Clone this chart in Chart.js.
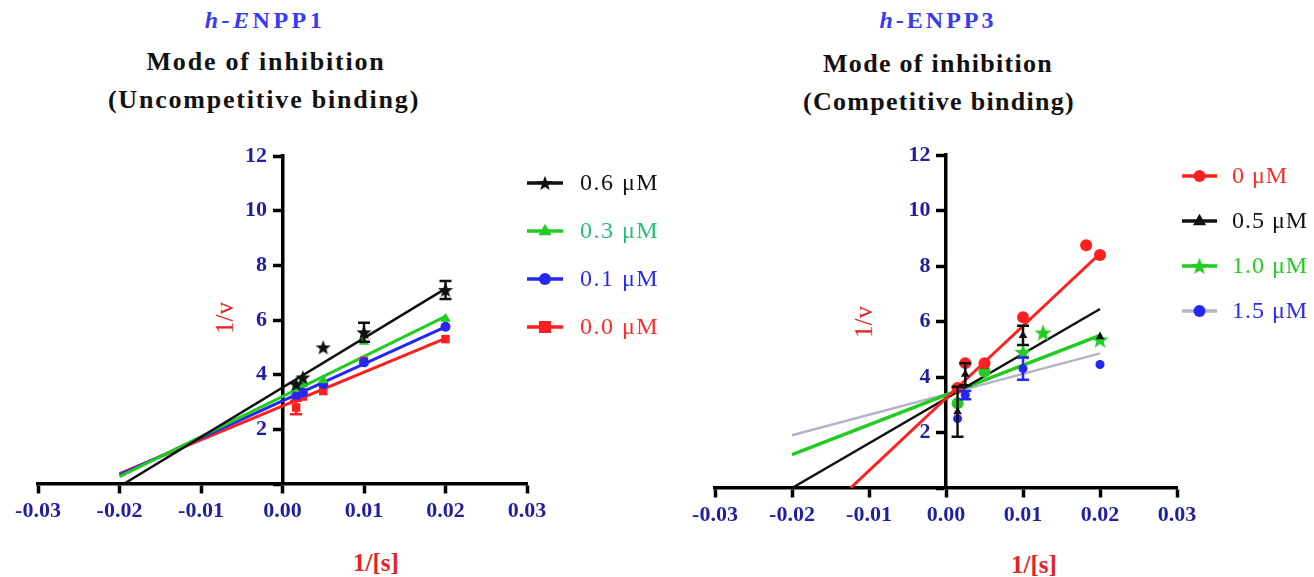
<!DOCTYPE html>
<html><head><meta charset="utf-8">
<script src="https://cdn.jsdelivr.net/npm/chart.js@4.4.1/dist/chart.umd.min.js"></script>
<style>
html,body{margin:0;padding:0;background:#fff;width:1314px;height:577px;overflow:hidden;position:relative;font-family:"Liberation Serif","DejaVu Serif",serif;}
canvas{position:absolute;left:0;top:0;}
.t{position:absolute;transform:translateX(-50%);white-space:nowrap;font-weight:bold;text-align:center;line-height:1;}
.ax{position:absolute;white-space:nowrap;color:#e3241f;line-height:1;}
</style></head><body>
<div class="t" style="left:265px;top:8px;font-size:24px;letter-spacing:3.5px;color:#3a3af2"><i>h-E</i>NPP1</div>
<div class="t" style="left:266px;top:49px;font-size:26px;letter-spacing:1.8px;color:#111">Mode of inhibition</div>
<div class="t" style="left:264px;top:87px;font-size:26px;letter-spacing:1.8px;color:#111">(Uncompetitive binding)</div>
<div class="t" style="left:938px;top:8px;font-size:24px;letter-spacing:3px;color:#3a3af2"><i>h</i>-ENPP3</div>
<div class="t" style="left:938px;top:51px;font-size:26px;letter-spacing:1.3px;color:#111">Mode of inhibition</div>
<div class="t" style="left:939px;top:89px;font-size:26px;letter-spacing:1.3px;color:#111">(Competitive binding)</div>
<div class="ax" style="left:224px;top:318px;font-size:25px;transform:translate(-50%,-50%) rotate(-90deg)">1/v</div>
<div class="ax" style="left:863px;top:322px;font-size:25px;transform:translate(-50%,-50%) rotate(-90deg)">1/v</div>
<div class="ax" style="left:376px;top:562px;font-size:25px;font-weight:bold;transform:translate(-50%,-50%)">1/[s]</div>
<div class="ax" style="left:1034px;top:564px;font-size:25px;font-weight:bold;transform:translate(-50%,-50%)">1/[s]</div>
<canvas id="c1" width="1314" height="577"></canvas>
<canvas id="c2" width="1314" height="577"></canvas>
<script>
// ---------------- DATA ----------------
const xTicks = [-0.03, -0.02, -0.01, 0.00, 0.01, 0.02, 0.03];
const yTicks = [0, 2, 4, 6, 8, 10, 12];

// h-ENPP1 (uncompetitive)
const enpp1X = [0.00167, 0.0025, 0.005, 0.01, 0.02];
const enpp1Labels = ['0.6 μM', '0.3 μM', '0.1 μM', '0.0 μM'];
const enpp1_06 = [3.65, 3.9, 5.0, 5.55, 7.1];
const enpp1_06Err = [0, 0, 0, 0.35, 0.33];
const enpp1_03 = [3.5, 3.65, 3.8, 5.2, 6.05];
const enpp1_01 = [3.2, 3.35, 3.65, 4.45, 5.75];
const enpp1_00 = [2.8, 3.2, 3.4, 4.5, 5.3];
const enpp1_00Err = [0.25, 0, 0, 0, 0];
// fitted lines (x range, y at ends)
const enpp1Fit06X = [-0.0195, 0.02], enpp1Fit06Y = [0, 7.15];
const enpp1Fit03X = [-0.02, 0.02],   enpp1Fit03Y = [0.27, 6.13];
const enpp1Fit01X = [-0.02, 0.02],   enpp1Fit01Y = [0.33, 5.75];
const enpp1Fit00X = [-0.02, 0.02],   enpp1Fit00Y = [0.38, 5.33];

// h-ENPP3 (competitive)
const enpp3X = [0.0015, 0.0025, 0.005, 0.01, 0.0126, 0.0182, 0.02];
const enpp3Labels = ['0 μM', '0.5 μM', '1.0 μM', '1.5 μM'];
const enpp3_0  = [3.6, 4.5, 4.5, 6.15, null, 8.75, 8.4];
const enpp3_05 = [2.75, 4.1, 4.4, 5.5, null, null, 5.45];
const enpp3_05Err = [0.9, 0.4, 0, 0.35, 0, 0, 0];
const enpp3_10 = [3.05, null, 4.2, 4.9, 5.6, null, 5.35];
const enpp3_15 = [2.5, 3.35, null, 4.3, null, null, 4.45];
const enpp3_15Err = [0, 0.15, 0, 0.4, 0, 0, 0];
const enpp3Fit0X  = [-0.0124, 0.02], enpp3Fit0Y  = [0, 8.45];
const enpp3Fit05X = [-0.02, 0.02],   enpp3Fit05Y = [0, 6.45];
const enpp3Fit10X = [-0.02, 0.02],   enpp3Fit10Y = [1.2, 5.5];
const enpp3Fit15X = [-0.02, 0.02],   enpp3Fit15Y = [1.9, 4.85];

// ---------------- HELPERS ----------------
const pts = (xs, ys) => xs.map((x, i) => ({x: x, y: ys[i]}));
function starCanvas(color, size) {
  const c = document.createElement('canvas'); c.width = c.height = size;
  const g = c.getContext('2d'); g.fillStyle = color; g.beginPath();
  const R = size / 2, r = R * 0.42;
  for (let i = 0; i < 10; i++) {
    const a = -Math.PI / 2 + i * Math.PI / 5, rad = (i % 2) ? r : R;
    g.lineTo(R + rad * Math.cos(a), R * 1.08 + rad * Math.sin(a));
  }
  g.closePath(); g.fill(); return c;
}
function drawMarker(ctx, style, color, x, y, r) {
  ctx.save(); ctx.fillStyle = color;
  if (style instanceof HTMLCanvasElement) {
    ctx.drawImage(style, x - style.width / 2, y - style.height / 2);
  } else if (style === 'rect') {
    ctx.fillRect(x - r, y - r, 2 * r, 2 * r);
  } else if (style === 'triangle') {
    ctx.beginPath(); ctx.moveTo(x, y - r * 1.2); ctx.lineTo(x + r * 1.1, y + r * 0.7); ctx.lineTo(x - r * 1.1, y + r * 0.7); ctx.closePath(); ctx.fill();
  } else {
    ctx.beginPath(); ctx.arc(x, y, r, 0, Math.PI * 2); ctx.fill();
  }
  ctx.restore();
}
const errorBarPlugin = {
  id: 'errbars',
  afterDatasetsDraw(chart) {
    const ctx = chart.ctx, ys = chart.scales.y;
    chart.data.datasets.forEach((ds, i) => {
      if (!ds.errorBars) return;
      const meta = chart.getDatasetMeta(i);
      ctx.save(); ctx.strokeStyle = ds.errorColor || ds.borderColor; ctx.lineWidth = 2.5;
      meta.data.forEach((el, j) => {
        const e = ds.errorBars[j], v = ds.data[j].y;
        if (!e || v == null) return;
        const x = el.x, y1 = ys.getPixelForValue(v + e), y2 = ys.getPixelForValue(v - e);
        ctx.beginPath();
        ctx.moveTo(x, y1); ctx.lineTo(x, y2);
        ctx.moveTo(x - 6, y1); ctx.lineTo(x + 6, y1);
        ctx.moveTo(x - 6, y2); ctx.lineTo(x + 6, y2);
        ctx.stroke();
      });
      ctx.restore();
    });
  }
};
const sideLegendPlugin = {
  id: 'sideLegend',
  afterDraw(chart, args, o) {
    const ctx = chart.ctx;
    const items = chart.data.datasets.filter(d => d.legendColor);
    items.forEach((ds, k) => {
      const y = o.y0 + k * o.gap;
      ctx.save();
      ctx.strokeStyle = ds.legendLine; ctx.lineWidth = 3.5;
      ctx.beginPath(); ctx.moveTo(o.x0, y); ctx.lineTo(o.x0 + o.len, y); ctx.stroke();
      drawMarker(ctx, ds.legendMarker || ds.pointStyle, ds.backgroundColor, o.x0 + o.len / 2, y, o.r);
      ctx.fillStyle = ds.legendColor;
      ctx.font = o.fontSpec;
      if ('letterSpacing' in ctx) ctx.letterSpacing = o.spacing;
      ctx.textBaseline = 'middle';
      ctx.fillText(ds.label, o.textX, y + 1);
      ctx.restore();
    });
  }
};
const tickFont = {family: 'Liberation Serif', weight: 'bold', size: 22};
const tickColor = '#1f1fa0';
function scales(labelX) {
  const yTickSet = s => { s.ticks = yTicks.map(v => ({value: v})); };
  return {
    x: {
      type: 'linear', min: -0.03, max: 0.03, position: {y: 0},
      afterBuildTicks: s => { s.ticks = xTicks.map(v => ({value: v})); },
      ticks: {font: tickFont, color: tickColor, maxRotation: 0, autoSkip: false, padding: 6,
              callback: v => (Math.abs(v) < 1e-9 ? 0 : v).toFixed(2)},
      grid: {drawOnChartArea: false, drawTicks: true, tickLength: 8, tickWidth: 3.5, color: '#000'},
      border: {display: true, color: '#000', width: 3.5}
    },
    y: {
      type: 'linear', min: 0, max: 12, position: {x: 0},
      afterBuildTicks: yTickSet,
      ticks: {display: false},
      grid: {drawOnChartArea: false, drawTicks: true, tickLength: 8, tickWidth: 3.5, color: '#000'},
      border: {display: true, color: '#000', width: 3.5}
    },
    yLabels: {
      type: 'linear', min: 0, max: 12, position: {x: labelX},
      afterBuildTicks: yTickSet,
      ticks: {font: tickFont, color: tickColor, callback: v => v === 0 ? '' : String(v)},
      grid: {display: false},
      border: {display: false}
    }
  };
}
function fitDs(xs, ys, color, w) {
  return {data: pts(xs, ys), showLine: true, pointRadius: 0, borderColor: color, backgroundColor: color,
          borderWidth: w, order: 2};
}
function ptDs(label, xs, ys, color, style, r, extra) {
  return Object.assign({label: label, data: pts(xs, ys), showLine: false, pointStyle: style, pointRadius: r,
          backgroundColor: color, borderColor: color, pointBorderWidth: 0, order: 1}, extra || {});
}
const baseOpts = (padding, legend, labelX) => ({
  responsive: false, animation: false,
  layout: {padding: padding},
  plugins: {legend: {display: false}, tooltip: {enabled: false}, sideLegend: legend},
  scales: scales(labelX)
});

// -------- chart 1: h-ENPP1 --------
const BLACK = '#111111', GREEN = '#22cc22', BLUE = '#2626f5', RED = '#ff1f1f';
const starBlack = starCanvas(BLACK, 16);
new Chart(document.getElementById('c1'), {
  type: 'scatter',
  data: {datasets: [
    fitDs(enpp1Fit06X, enpp1Fit06Y, BLACK, 2.5),
    fitDs(enpp1Fit03X, enpp1Fit03Y, GREEN, 3),
    fitDs(enpp1Fit01X, enpp1Fit01Y, BLUE, 3),
    fitDs(enpp1Fit00X, enpp1Fit00Y, RED, 3),
    ptDs(enpp1Labels[0], enpp1X, enpp1_06, BLACK, starBlack, 8, {errorBars: enpp1_06Err, legendColor: '#111', legendLine: BLACK}),
    ptDs(enpp1Labels[1], enpp1X, enpp1_03, GREEN, 'triangle', 6, {legendColor: '#22bf7a', legendLine: GREEN}),
    ptDs(enpp1Labels[2], enpp1X, enpp1_01, BLUE, 'circle', 5, {legendColor: '#2a2aee', legendLine: BLUE}),
    ptDs(enpp1Labels[3], enpp1X, enpp1_00, RED, 'rect', 6, {errorBars: enpp1_00Err, legendColor: '#ff2a2a', legendLine: RED})
  ]},
  options: baseOpts({left: 38, top: 156, right: 787, bottom: 93},
    {x0: 527, len: 36, r: 6, textX: 580, y0: 183, gap: 48, fontSpec: '24px "Liberation Serif"', spacing: '1.5px'}, -0.0019),
  plugins: [errorBarPlugin, sideLegendPlugin]
});

// -------- chart 2: h-ENPP3 --------
const GRAY = '#b4b4c8';
const starGreen = starCanvas(GREEN, 18);
new Chart(document.getElementById('c2'), {
  type: 'scatter',
  data: {datasets: [
    fitDs(enpp3Fit0X, enpp3Fit0Y, RED, 3),
    fitDs(enpp3Fit05X, enpp3Fit05Y, BLACK, 2.5),
    fitDs(enpp3Fit10X, enpp3Fit10Y, GREEN, 3.5),
    fitDs(enpp3Fit15X, enpp3Fit15Y, GRAY, 2.5),
    ptDs(enpp3Labels[0], enpp3X, enpp3_0, RED, 'circle', 6, {legendColor: '#ff2a2a', legendLine: RED}),
    ptDs(enpp3Labels[1], enpp3X, enpp3_05, BLACK, 'triangle', 5, {errorBars: enpp3_05Err, legendColor: '#111', legendLine: BLACK}),
    ptDs(enpp3Labels[2], enpp3X, enpp3_10, GREEN, c => (c.raw && c.raw.x < 0.008) ? 'circle' : starGreen, 6,
         {legendMarker: starGreen, legendColor: '#22cc22', legendLine: GREEN}),
    ptDs(enpp3Labels[3], enpp3X, enpp3_15, BLUE, 'circle', 4.5, {errorBars: enpp3_15Err, legendColor: '#2a2aee', legendLine: GRAY})
  ]},
  options: baseOpts({left: 715, top: 155, right: 137, bottom: 89},
    {x0: 1182, len: 35, r: 6, textX: 1232, y0: 176, gap: 45, fontSpec: '24px "Liberation Serif"', spacing: '1px'}, -0.002),
  plugins: [errorBarPlugin, sideLegendPlugin]
});
</script>
</body></html>
